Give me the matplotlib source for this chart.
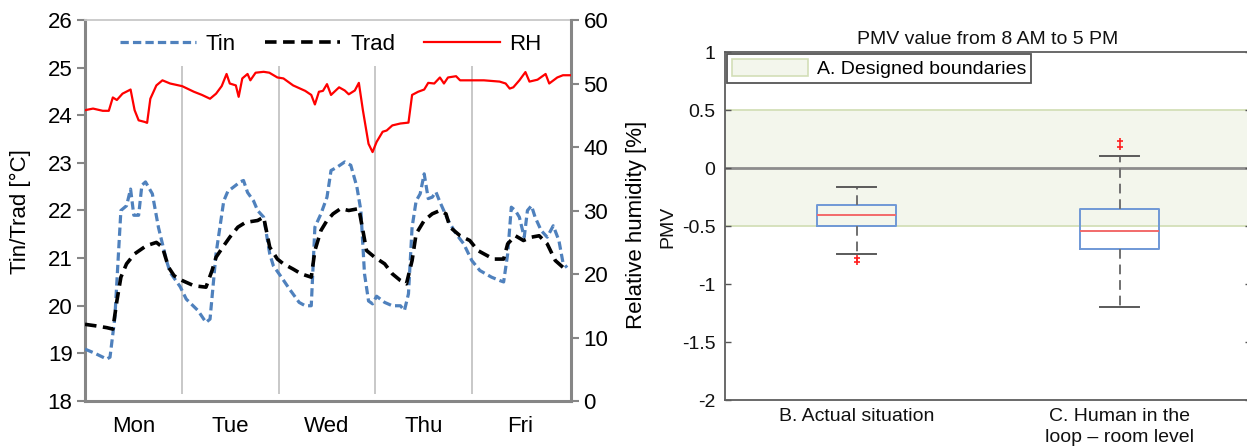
import matplotlib
matplotlib.use('Agg')
import matplotlib.pyplot as plt
from matplotlib.patches import Patch

plt.rcParams['font.family'] = ['Liberation Sans', 'DejaVu Sans']
plt.rcParams['axes.unicode_minus'] = False

# ---------------- data: left panel (hours from Monday 00:00) ----------------
day_labels = ['Mon', 'Tue', 'Wed', 'Thu', 'Fri']
day_centers = [12, 36, 60, 84, 108]
day_bounds = [24, 48, 72, 96]

tin_h = [0.0, 2.5, 5.4, 6.2, 7.4, 8.9, 10.3, 11.3, 12.1, 13.3, 14.1, 15.0, 16.7, 18.2, 20.2,
         21.1, 23.6, 25.1, 28.0, 30.0, 31.0, 32.5, 34.4, 35.4, 37.4, 38.4, 39.3, 40.3, 41.8, 42.8,
         44.3, 45.8, 46.7, 48.7, 50.7, 53.1, 54.6, 56.1, 57.0, 58.5, 60.0, 61.0, 62.5, 64.4, 65.9,
         67.4, 68.4, 69.3, 70.3, 71.3, 72.3, 74.3, 76.2, 78.2, 79.2, 80.2, 81.1, 82.1, 83.1, 84.1,
         85.1, 86.1, 87.0, 88.0, 90.0, 92.0, 93.9, 95.9, 97.9, 100.8, 102.8, 103.8, 104.8, 105.7,
         106.7, 107.7, 108.9, 109.7, 110.7, 111.6, 113.1, 114.6, 116.1, 117.5, 118.5, 119.5]
tin_v = [19.09, 19.0, 18.88, 18.92, 19.75, 22.0, 22.1, 22.45, 21.9, 21.9, 22.53, 22.6, 22.35, 21.65, 20.95,
         20.7, 20.4, 20.14, 19.9, 19.65, 19.72, 21.1, 22.2, 22.4, 22.53, 22.6, 22.63, 22.38, 22.2, 22.0,
         21.86, 21.09, 20.84, 20.6, 20.35, 20.07, 20.0, 20.0, 21.65, 21.93, 22.28, 22.84, 22.91, 23.02, 22.95,
         22.5, 22.0, 20.67, 20.1, 20.04, 20.2, 20.07, 20.0, 20.0, 19.9, 20.25, 21.65, 22.2, 22.35, 22.77,
         22.25, 22.28, 22.39, 22.18, 21.8, 21.51, 21.3, 20.95, 20.74, 20.6, 20.53, 20.5, 21.09, 22.07,
         22.0, 21.86, 21.44, 22.0, 22.1, 21.86, 21.58, 21.44, 21.68, 21.37, 20.91, 20.8]

trad_h = [0.0, 2.5, 5.4, 6.9, 7.9, 8.9, 10.3, 12.3, 15.2, 17.7, 19.2, 20.7, 22.1, 24.1, 27.0,
          30.0, 31.5, 32.5, 34.4, 35.9, 37.9, 39.8, 42.8, 44.3, 45.8, 47.7, 49.2, 51.6, 53.6, 56.1,
          57.0, 58.5, 60.0, 61.5, 63.4, 65.4, 67.9, 68.9, 69.8, 71.8, 74.3, 76.2, 78.2, 79.7, 81.1,
          82.1, 84.1, 86.1, 88.0, 89.5, 90.5, 93.0, 95.4, 97.4, 98.9, 101.3, 103.8, 104.8, 106.7, 108.7,
          110.7, 112.6, 114.6, 116.6, 119.0]
trad_v = [19.61, 19.58, 19.54, 19.51, 20.1, 20.6, 20.88, 21.09, 21.26, 21.33, 21.23, 20.81, 20.63, 20.53, 20.42,
          20.39, 20.74, 21.02, 21.26, 21.44, 21.65, 21.75, 21.79, 21.86, 21.23, 20.98, 20.88, 20.77, 20.67, 20.6,
          21.16, 21.58, 21.79, 21.93, 22.04, 22.0, 22.04, 21.58, 21.16, 21.02, 20.88, 20.67, 20.53, 20.46, 20.95,
          21.51, 21.79, 21.93, 22.0, 21.93, 21.65, 21.47, 21.37, 21.16, 21.09, 20.98, 20.98, 21.3, 21.47, 21.37,
          21.44, 21.47, 21.3, 20.95, 20.77]

rh_h = [0.0, 2.0, 4.4, 5.9, 6.9, 7.9, 9.3, 11.3, 12.3, 13.3, 14.8, 15.4, 16.2, 17.7, 19.2,
        21.1, 24.1, 27.0, 29.0, 31.0, 32.5, 33.9, 35.1, 35.9, 37.4, 38.1, 39.0, 40.3, 41.0, 42.3,
        44.3, 45.7, 47.7, 49.2, 51.6, 54.6, 56.1, 57.0, 58.0, 59.0, 60.0, 61.0, 63.0, 64.4, 65.4,
        66.9, 67.9, 68.9, 70.3, 71.3, 72.3, 73.8, 74.8, 76.2, 78.2, 80.2, 81.1, 82.6, 84.1, 85.1,
        86.6, 88.0, 89.0, 90.0, 92.0, 93.0, 95.9, 98.9, 102.8, 104.3, 105.3, 106.2, 107.7, 109.2, 110.2,
        112.2, 114.2, 115.1, 117.1, 118.5, 120.5]
rh_v = [45.8, 46.05, 45.7, 45.7, 47.8, 47.4, 48.4, 49.05, 45.8, 44.2, 43.95, 43.8, 47.6, 49.7, 50.5,
        50.0, 49.58, 48.7, 48.2, 47.6, 48.4, 49.6, 51.5, 50.0, 49.7, 47.9, 50.8, 51.5, 50.5, 51.7,
        51.84, 51.7, 50.95, 50.8, 49.7, 48.84, 48.2, 46.7, 48.7, 48.84, 49.9, 48.2, 49.4, 48.9, 48.3,
        48.9, 50.1, 45.8, 40.5, 39.2, 40.8, 42.4, 42.6, 43.4, 43.7, 43.84, 48.2, 48.7, 49.05, 50.1,
        50.0, 50.95, 50.0, 50.95, 51.15, 50.5, 50.5, 50.5, 50.3, 50.0, 49.2, 49.4, 50.5, 51.8, 50.3,
        50.6, 51.5, 50.0, 50.95, 51.3, 51.3]

# ---------------- data: right panel (PMV box plots) ----------------
box_labels = ['B. Actual situation', 'C. Human in the\nloop \u2013 room level']
box_med = [-0.405, -0.543]
box_q1 = [-0.50, -0.70]
box_q3 = [-0.32, -0.353]
box_whislo = [-0.74, -1.198]
box_whishi = [-0.165, 0.105]
box_fliers = [[-0.78, -0.81], [0.18, 0.23]]
band_lo, band_hi = -0.5, 0.5
pmv_ticks = [-2, -1.5, -1, -0.5, 0, 0.5, 1]

# ---------------- figure ----------------
W, H = 1247, 448
fig = plt.figure(figsize=(W / 100, H / 100), dpi=100)


def px_axes(l, t, r, b):
    return fig.add_axes([l / W, 1 - b / H, (r - l) / W, (b - t) / H])


# ----- left panel -----
ax1 = px_axes(85, 20, 571, 401)
ax2 = ax1.twinx()
ax1.set_xlim(0, 120.5)
ax1.set_ylim(18, 26)
ax2.set_ylim(0, 60)

ax1.vlines(day_bounds, 18.15, 25.03, color='#C4C4C4', lw=1.3, zorder=1)
l_tin, = ax1.plot(tin_h, tin_v, color='#4F81BD', lw=2.3, ls=(0, (2.6, 1.3)), zorder=3)
l_trad, = ax1.plot(trad_h, trad_v, color='black', lw=2.6, ls=(0, (3.2, 1.8)), zorder=3)
l_rh, = ax2.plot(rh_h, rh_v, color='#FF0000', lw=1.6, zorder=3)

ax1.set_yticks(range(18, 27))
ax2.set_yticks(range(0, 61, 10))
ax1.set_xticks(day_centers)
ax1.set_xticklabels(day_labels)
ax1.tick_params(axis='x', length=0, pad=11, labelsize=16)
ax1.tick_params(axis='y', direction='out', length=6, width=1.5, color='#868686', labelsize=16, pad=3)
ax2.tick_params(axis='y', direction='out', length=6, width=1.5, color='#868686', labelsize=16, pad=3)

for s in ['left', 'bottom']:
    ax1.spines[s].set_color('#868686')
    ax1.spines[s].set_linewidth(2.2)
ax1.spines['top'].set_color('#C8C8C8')
ax1.spines['top'].set_linewidth(1.3)
ax1.spines['right'].set_visible(False)
for s in ['left', 'bottom', 'top']:
    ax2.spines[s].set_visible(False)
ax2.spines['right'].set_color('#868686')
ax2.spines['right'].set_linewidth(2.2)

ax1.legend([l_tin, l_trad, l_rh], ['Tin', 'Trad', 'RH'], ncol=3, loc='center left',
           bbox_to_anchor=((120 - 85) / 486, 0.937), frameon=False, fontsize=16,
           handlelength=3.4, handletextpad=0.45, columnspacing=1.3, borderpad=0, borderaxespad=0)

fig.text(20 / W, 1 - 212 / H, 'Tin/Trad [°C]', rotation=90, ha='center', va='center', fontsize=16)
fig.text(636 / W, 1 - 225 / H, 'Relative humidity [%]', rotation=90, ha='center', va='center', fontsize=16)

# ----- right panel -----
ax3 = px_axes(725, 52, 1251, 400)
ax3.set_xlim(0.5, 2.5)
ax3.set_ylim(-2, 1)
band_fc, band_ec = '#F3F6EC', '#D3DFB8'
ax3.axhspan(band_lo, band_hi, facecolor=band_fc, edgecolor='none', zorder=0)
ax3.axhline(band_hi, color=band_ec, lw=1.3, zorder=1)
ax3.axhline(band_lo, color=band_ec, lw=1.3, zorder=1)
ax3.axhline(0, color='#8C8C8C', lw=2.0, zorder=1)

stats = []
for i in range(len(box_labels)):
    stats.append(dict(med=box_med[i], q1=box_q1[i], q3=box_q3[i], whislo=box_whislo[i],
                      whishi=box_whishi[i], fliers=box_fliers[i], label=box_labels[i]))
ax3.bxp(stats, positions=[1, 2], widths=0.3, showfliers=True,
        boxprops=dict(color='#6F98D6', lw=1.4),
        medianprops=dict(color='#F26A6A', lw=1.4),
        whiskerprops=dict(color='#707070', lw=1.4, ls=(0, (5, 3))),
        capprops=dict(color='#5A5A5A', lw=1.4),
        flierprops=dict(marker='+', markeredgecolor='#FF2020', markersize=5, markeredgewidth=1.2),
        zorder=3)

ax3.set_yticks(pmv_ticks)
ax3.set_yticklabels(['%g' % v for v in pmv_ticks])
ax3.tick_params(axis='y', direction='in', length=4, width=1, color='#555555', labelsize=14, pad=7,
                right=True, labelcolor='#111111')
ax3.tick_params(axis='x', length=0, pad=6, labelsize=14, labelcolor='#111111')
for lab in ax3.get_xticklabels():
    lab.set_linespacing(1.25)
for s in ax3.spines.values():
    s.set_color('#5E5E5E')
    s.set_linewidth(1.3)

ax3.set_title('PMV value from 8 AM to 5 PM', fontsize=14, pad=6, color='#111111')
fig.text(668 / W, 1 - 227 / H, 'PMV', rotation=90, ha='center', va='center', fontsize=14, color='#111111')

leg = ax3.legend([Patch(facecolor=band_fc, edgecolor=band_ec, lw=1.2)], ['A. Designed boundaries'],
                 loc='upper left', bbox_to_anchor=(0.004, 0.994), borderaxespad=0, fontsize=14,
                 handlelength=3.9, handleheight=1.0, handletextpad=0.45, borderpad=0.25,
                 fancybox=False, edgecolor='#555555', framealpha=1)
leg.get_frame().set_linewidth(1.3)

fig.savefig('out.png', dpi=100)
